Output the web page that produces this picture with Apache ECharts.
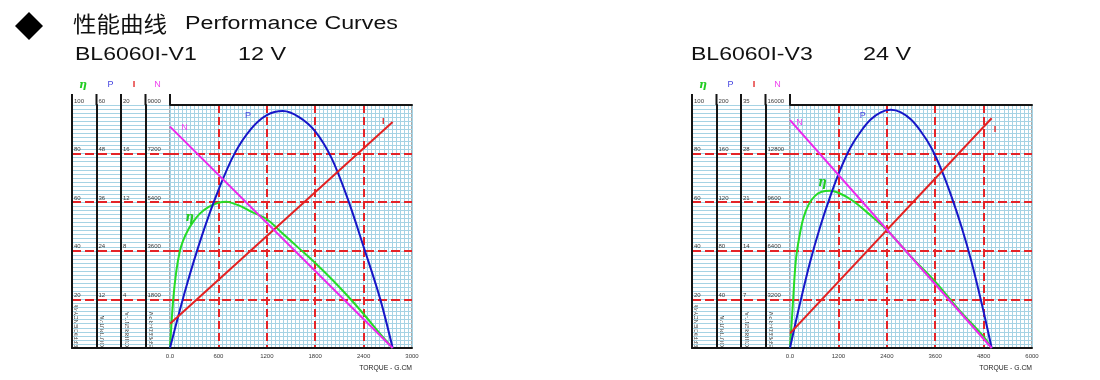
<!DOCTYPE html>
<html><head><meta charset="utf-8">
<script src="https://cdn.jsdelivr.net/npm/echarts@6/dist/echarts.min.js"></script>
<style>html,body{margin:0;padding:0;background:#fff;}#c{width:1100px;height:380px;}</style>
</head><body><div id="c"></div>
<script>
// ---------------- texts ----------------
const titleCn = '性能曲线';
const titleEn = 'Performance Curves';
const modelL = 'BL6060I-V1', voltL = '12 V';
const modelR = 'BL6060I-V3', voltR = '24 V';
const curveNames = ['η', 'P', 'I', 'N'];
const columnNames = ['EFFICIENCY-%', 'OUTPUT-W', 'CURRENT-A', 'SPEED-RPM'];
const xAxisTitle = 'TORQUE - G.CM';

// ---------------- tick labels ----------------
const xTicksL = ['0.0', '600', '1200', '1800', '2400', '3000'];
const effTicksL = ['', '20', '40', '60', '80', '100'];
const outTicksL = ['', '12', '24', '36', '48', '60'];
const curTicksL = ['', '4', '8', '12', '16', '20'];
const spdTicksL = ['', '1800', '3600', '5400', '7200', '9000'];

const xTicksR = ['0.0', '1200', '2400', '3600', '4800', '6000'];
const effTicksR = ['', '20', '40', '60', '80', '100'];
const outTicksR = ['', '40', '80', '120', '160', '200'];
const curTicksR = ['', '7', '14', '21', '28', '35'];
const spdTicksR = ['', '3200', '6400', '9600', '12800', '16000'];

// ---------------- BL6060I-V1, 12 V (torque in g.cm) ----------------
const effTorqueL = [0, 40, 80, 120, 160, 230, 290, 370, 475, 600, 700, 800, 900, 1000, 1200, 1400, 1600, 1800, 2000, 2200, 2400, 2600, 2760];
const effL       = [0, 20, 32, 39.5, 44, 49, 52, 55.3, 58, 59.8, 60.2, 59.3, 58, 56.2, 53, 47, 41, 35, 28.5, 21.5, 14, 6, 0];
const outTorqueL = [0, 200, 400, 600, 800, 1000, 1200, 1400, 1600, 1800, 2000, 2200, 2400, 2600, 2760];
const outL       = [0, 15, 28, 39, 48, 54, 57.5, 58.5, 57, 53.5, 47, 37, 25, 12.5, 0];
const curTorqueL = [0, 2760];
const curL       = [2.0, 18.6];
const spdTorqueL = [0, 2760];
const spdL       = [8200, 0];

// ---------------- BL6060I-V3, 24 V ----------------
const effTorqueR = [0, 82, 124, 166, 248, 331, 455, 620, 785, 992, 1198, 1529, 1942, 2400, 3000, 3600, 4200, 4800, 5000];
const effR       = [0, 21, 32, 39, 47.2, 53.4, 58.8, 62.6, 64.3, 64.7, 63.9, 60.9, 55.4, 48.6, 37.6, 27.3, 15.5, 4.7, 0];
const outTorqueR = [0, 250, 500, 750, 1000, 1250, 1500, 1750, 2000, 2250, 2500, 2750, 3000, 3250, 3500, 3750, 4000, 4250, 4500, 4750, 5000];
const outR       = [0, 37, 71, 100, 125, 147, 165, 178, 188, 194, 196, 194, 188, 178, 165, 147, 125, 100, 71, 37, 0];
const curTorqueR = [0, 5000];
const curR       = [2.1, 33.1];
const spdTorqueR = [0, 5000];
const spdR       = [15000, 0];

// ---------------- layout / style ----------------
const FONT = '"Liberation Sans", Arial, Helvetica, sans-serif';
const CJK = '"Noto Sans CJK SC", sans-serif';
const C = { black: '#151515', grid: '#a6d3e4', red: '#e42327', tick: '#3a3a3a',
  curve: ['#26dc26', '#1717c8', '#e32222', '#ec28ec'],
  head: ['#22cc22', '#4646e0', '#e32222', '#ee44ee'] };
const TOP = 105, H = 243, TABLE_W = 98, PLOT_W = 242;
const FINE = 60;            // fine grid cells across the plot (12 per major division)
const COL_OFFSETS = [98, 73.5, 49, 24.5];
const HEAD_DX = [11, 14, 13, 12];
const NAME_DX = [4, 6, 6, 6];
const labelFont = [
  { fontSize: 12, fontWeight: 'bold', fontStyle: 'italic', fontFamily: 'DejaVu Serif, serif' },
  { fontSize: 9, fontFamily: FONT },
  { fontSize: 9, fontWeight: 'bold', fontFamily: FONT },
  { fontSize: 9, fontFamily: FONT }
];

const panels = [
  { tableLeft: 72, plotLeft: 170, xTicks: xTicksL,
    yTicks: [effTicksL, outTicksL, curTicksL, spdTicksL],
    curves: [[effTorqueL, effL], [outTorqueL, outL], [curTorqueL, curL], [spdTorqueL, spdL]],
    labels: [{ i: 5, off: [1, -11] }, { i: 7, off: [-35, 4] }, { i: 1, off: [-9.5, 0] }, { i: 0, off: [14.5, 0.5] }] },
  { tableLeft: 692, plotLeft: 790, xTicks: xTicksR,
    yTicks: [effTicksR, outTicksR, curTicksR, spdTicksR],
    curves: [[effTorqueR, effR], [outTorqueR, outR], [curTorqueR, curR], [spdTorqueR, spdR]],
    labels: [{ i: 8, off: [0.6, -8.5] }, { i: 10, off: [-28, 6] }, { i: 1, off: [3.3, 11.5] }, { i: 0, off: [9.5, 2] }] }
];

const option = { animation: false, backgroundColor: '#fff', grid: [], xAxis: [], yAxis: [], series: [], graphic: [] };
const G = option.graphic;
const noAxis = { axisLine: { show: false }, axisTick: { show: false }, axisLabel: { show: false } };
const redDash = (d) => ({ show: true, showMinLine: false, showMaxLine: false, lineStyle: { color: C.red, width: 2, type: d } });
const blueLine = { show: true, lineStyle: { color: C.grid, width: 1 } };

function txt(x, y, text, st, extra) {
  return Object.assign({ type: 'text', x: x, y: y, silent: true,
    style: Object.assign({ text: text, fill: '#111', fontFamily: FONT,
      textAlign: 'left', align: 'left', textVerticalAlign: 'middle', verticalAlign: 'middle' }, st) }, extra || {});
}

panels.forEach(function (p) {
  const gT = option.grid.length;
  option.grid.push({ left: p.tableLeft, top: TOP, width: TABLE_W, height: H, containLabel: false, outerBoundsMode: 'none' });
  const gP = option.grid.length;
  option.grid.push({ left: p.plotLeft, top: TOP, width: PLOT_W, height: H, show: true, backgroundColor: 'transparent',
    borderColor: '#555', borderWidth: 1, containLabel: false, outerBoundsMode: 'none' });

  const xmax = Number(p.xTicks[p.xTicks.length - 1]);
  const xint = xmax / (p.xTicks.length - 1);

  // table bottom line
  option.xAxis.push(Object.assign({}, noAxis, { gridIndex: gT, type: 'value', position: 'bottom', min: 0, max: 1,
    axisLine: { show: true, onZero: false, lineStyle: { color: C.black, width: 2 } }, splitLine: { show: false } }));
  // plot fine vertical grid
  option.xAxis.push(Object.assign({}, noAxis, { gridIndex: gP, type: 'value', position: 'top', min: 0, max: FINE, interval: 1, z: 0,
    splitLine: blueLine }));
  // plot main x axis (bottom)
  const xMain = option.xAxis.length;
  option.xAxis.push({ gridIndex: gP, type: 'value', position: 'bottom', min: 0, max: xmax, interval: xint, z: 1,
    axisLine: { show: true, onZero: false, lineStyle: { color: C.black, width: 2 } }, axisTick: { show: false },
    axisLabel: { show: true, margin: 5, fontSize: 6, color: C.tick, fontFamily: FONT,
      formatter: function (v) { return p.xTicks[Math.round(v / xint)]; } },
    splitLine: redDash([8, 4]) });
  // plot top border
  option.xAxis.push(Object.assign({}, noAxis, { gridIndex: gP, type: 'value', position: 'top', min: 0, max: xmax, z: 1,
    axisLine: { show: true, onZero: false, lineStyle: { color: C.black, width: 2 } }, splitLine: { show: false } }));

  // table horizontal grid (fine blue lines + red dashed majors)
  option.yAxis.push(Object.assign({}, noAxis, { gridIndex: gT, type: 'value', position: 'left', min: 0, max: FINE, interval: 1, z: 0,
    splitLine: blueLine }));
  option.yAxis.push(Object.assign({}, noAxis, { gridIndex: gT, type: 'value', position: 'right', min: 0, max: 100, interval: 20, z: 1,
    splitLine: redDash([9, 4]) }));
  // plot fine horizontal grid
  option.yAxis.push(Object.assign({}, noAxis, { gridIndex: gP, type: 'value', position: 'right', min: 0, max: FINE, interval: 1, z: 0,
    splitLine: blueLine }));

  // column scales
  const colIdx = [];
  p.yTicks.forEach(function (ticks, k) {
    const ymax = Number(ticks[ticks.length - 1]);
    const yint = ymax / (ticks.length - 1);
    colIdx.push(option.yAxis.length);
    option.yAxis.push({ gridIndex: gP, type: 'value', position: 'left', offset: COL_OFFSETS[k], min: 0, max: ymax, interval: yint, z: 2,
      axisLine: { show: true, onZero: false, lineStyle: { color: C.black, width: 2 } }, axisTick: { show: false },
      axisLabel: { show: true, inside: true, margin: 2, fontSize: 6, color: C.tick, fontFamily: FONT,
        verticalAlign: 'bottom', padding: [0, 0, 1, 0],
        formatter: function (v) { return ticks[Math.round(v / yint)]; } },
      splitLine: k === 0 ? redDash([9, 4]) : { show: false } });
  });

  // curves
  p.curves.forEach(function (c, k) {
    const xs = c[0], ys = c[1], lab = p.labels[k];
    const data = xs.map(function (x, i) {
      const d = { value: [x, ys[i]] };
      if (i === lab.i) d.label = Object.assign({ show: true, formatter: curveNames[k], position: 'inside',
        offset: lab.off, color: C.head[k] }, labelFont[k]);
      return d;
    });
    option.series.push({ type: 'line', xAxisIndex: xMain, yAxisIndex: colIdx[k], data: data,
      smooth: k < 2 ? 0.35 : false, showSymbol: true, symbol: 'circle', symbolSize: 0,
      lineStyle: { color: C.curve[k], width: 2 }, itemStyle: { color: C.curve[k] },
      label: { show: false }, emphasis: { disabled: true }, silent: true, z: 3 });
  });

  // column stubs above table, headers and vertical names
  const colX = COL_OFFSETS.map(function (o) { return p.plotLeft - o; });
  colX.concat([p.plotLeft]).forEach(function (x) {
    G.push({ type: 'line', silent: true, shape: { x1: x, y1: TOP - 11, x2: x, y2: TOP }, style: { stroke: C.black, lineWidth: 2 } });
  });
  colX.forEach(function (x, k) {
    const lf = labelFont[k];
    G.push(txt(x + HEAD_DX[k], 85, curveNames[k], { fill: C.head[k], fontSize: k === 0 ? 11 : 9,
      fontWeight: lf.fontWeight || 'normal', fontStyle: lf.fontStyle || 'normal', fontFamily: lf.fontFamily,
      textAlign: 'center', align: 'center' }));
    G.push(txt(x + NAME_DX[k], TOP + H - 1, columnNames[k], { fontSize: 6, fill: '#333' }, { rotation: Math.PI / 2 }));
  });
  G.push(txt(p.plotLeft + PLOT_W, 367.5, xAxisTitle, { fontSize: 8, fill: '#222', textAlign: 'right', align: 'right' }, { scaleX: 0.85 }));
});

// header
G.push({ type: 'polygon', silent: true, shape: { points: [[29, 12], [43, 26], [29, 40], [15, 26]] }, style: { fill: '#000' } });
G.push(txt(73, 24, titleCn, { fontSize: 22, fontFamily: CJK }, { scaleX: 1.07 }));
G.push(txt(185, 24, titleEn, { fontSize: 18 }, { scaleX: 1.29 }));
G.push(txt(75, 55, modelL, { fontSize: 18 }, { scaleX: 1.28 }));
G.push(txt(238, 55, voltL, { fontSize: 18 }, { scaleX: 1.3 }));
G.push(txt(691, 55, modelR, { fontSize: 18 }, { scaleX: 1.28 }));
G.push(txt(863, 55, voltR, { fontSize: 18 }, { scaleX: 1.3 }));

const chart = echarts.init(document.getElementById('c'), null, { renderer: 'canvas', width: 1100, height: 380 });
chart.setOption(option);
</script>
</body></html>
